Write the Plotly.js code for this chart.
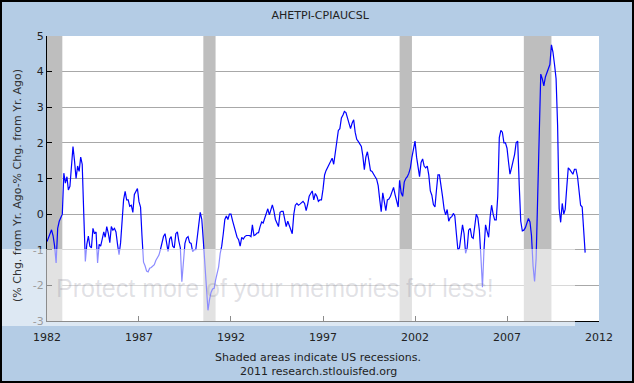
<!DOCTYPE html>
<html>
<head>
<meta charset="utf-8">
<script src="https://cdn.plot.ly/plotly-3.0.1.min.js"></script>
<style>html,body{margin:0;padding:0;background:#B4CCE5;}#chart{width:634px;height:383px;}</style>
</head>
<body>
<div id="chart"></div>
<script>
// Monthly values, % chg from yr ago (AHETPI) minus % chg from yr ago (CPIAUCSL), starting Jan 1982
const v1982_1986 = [
  -0.77, -0.65, -0.5, -0.44, -0.6, -0.9, -1.37, -0.4, -0.2, -0.1, 0.0, 1.15,
  0.87, 1.05, 0.68, 0.78, 1.35, 1.9, 1.5, 1.0, 1.35, 1.2, 1.6, 1.4,
  0.0, -1.33, -0.85, -0.62, -0.9, -0.95, -0.4, -0.55, -0.5, -1.37, -0.85, -0.9,
  -0.7, -0.5, -0.65, -0.35, -0.53, -0.8, -0.35, -0.45, -0.4, -0.5, -0.85, -1.14,
  -0.8, -0.1, 0.4, 0.64, 0.4, 0.4, 0.22, 0.25, 0.05, 0.55, 0.62, 0.72
];
const v1987_1991 = [
  0.35, 0.2, -0.6, -1.35, -1.45, -1.6, -1.62, -1.52, -1.5, -1.45, -1.42, -1.3,
  -1.2, -1.15, -1.0, -0.8, -0.63, -0.55, -0.75, -1.05, -0.7, -0.63, -0.9, -0.95,
  -0.55, -0.5, -0.75, -0.95, -1.9, -1.2, -0.82, -0.67, -0.63, -0.8, -0.82, -1.05,
  -1.0, -1.0, -0.72, -0.3, 0.05, -0.15, -0.75, -1.45, -1.9, -2.7, -2.4, -2.2,
  -2.1, -2.08, -1.85, -1.7, -1.48, -1.1, -0.9, -0.55, -0.15, -0.05, -0.15, 0.0
];
const v1992_1996 = [
  0.0, -0.18, -0.35, -0.55, -0.65, -0.72, -0.9, -0.65, -0.7, -0.63, -0.6, -0.6,
  -0.6, -0.63, -0.3, -0.6, -0.58, -0.53, -0.52, -0.35, -0.22, -0.25, -0.11, 0.03,
  0.15, -0.02, 0.1, 0.26, 0.1, -0.15, -0.25, -0.35, 0.05, 0.08, 0.08, -0.1,
  -0.35, -0.2, -0.3, -0.45, -0.55, 0.0, 0.25, 0.3, 0.25, 0.28, 0.33, 0.36,
  0.3, 0.1, 0.27, 0.5, 0.58, 0.65, 0.4, 0.58, 0.5, 0.36, 0.4, 0.4
];
const v1997_2001 = [
  0.7, 1.1, 1.22, 1.32, 1.4, 1.48, 1.57, 1.4, 1.75, 2.1, 2.35, 2.4,
  2.7, 2.78, 2.88, 2.85, 2.68, 2.5, 2.4, 2.55, 2.65, 2.3, 2.1, 2.04,
  1.98, 1.9, 1.65, 1.25, 1.6, 1.75, 1.5, 1.22, 1.2, 1.1, 1.05, 0.98,
  0.8, 0.4, 0.07, 0.6, 0.3, 0.1, 0.4, 0.42, 0.5, 0.66, 0.75, 0.55,
  0.4, 0.2, 0.95, 0.6, 0.5, 0.9, 1.0, 1.05, 1.15, 1.3, 1.6, 1.8
];
const v2002_2006 = [
  2.05, 1.6, 1.25, 1.05, 1.45, 1.55, 1.35, 1.3, 1.35, 1.1, 0.65, 0.53,
  0.27, 0.2, 0.65, 1.1, 1.1, 0.7, 0.5, 0.15, -0.02, 0.13, -0.2, -0.1,
  -0.07, 0.02, -0.05, -0.55, -1.0, -0.95, -0.6, -0.3, -0.55, -1.1, -0.95, -0.45,
  -0.4, -0.65, -0.68, -0.25, 0.0, -0.1, -0.45, -1.2, -2.05, -1.0, -0.3, -0.48,
  -0.65, -0.07, 0.25, 0.0, -0.16, -0.16, 0.5, 2.15, 2.35, 2.3, 2.0, 2.0
];
const v2007_2011 = [
  1.85, 1.45, 1.12, 1.3, 1.45, 1.68, 2.0, 2.05, 0.8, -0.2, -0.47, -0.45,
  -0.38, -0.2, -0.12, -0.22, -0.6, -1.45, -1.89, -1.25, 0.6, 2.8, 3.93, 3.8,
  3.6, 3.85, 3.95, 4.05, 4.2, 4.75, 4.55, 4.2, 3.8, 2.5, 0.15, -0.23,
  0.3, 0.0, 0.14, 0.75, 1.3, 1.25, 1.2, 1.12, 1.26, 1.26, 1.05, 0.6,
  0.25, 0.2, -0.5, -1.08
];
const startYear = 1982;
const recessionStart = ['1981-07-01', '1990-07-01', '2001-03-01', '2007-12-01'];
const recessionEnd   = ['1982-11-01', '1991-03-01', '2001-11-01', '2009-06-01'];
const xTickYears = ['1982', '1987', '1992', '1997', '2002', '2007', '2012'];
const yTicks = [-3, -2, -1, 0, 1, 2, 3, 4, 5];

const values = [].concat(v1982_1986, v1987_1991, v1992_1996, v1997_2001, v2002_2006, v2007_2011);
const dates = values.map((_, i) => {
  const y = startYear + Math.floor(i / 12);
  const m = (i % 12) + 1;
  return y + '-' + String(m).padStart(2, '0') + '-01';
});

const recX = [], recY = [];
recessionStart.forEach((s, i) => {
  recX.push(s, s, recessionEnd[i], recessionEnd[i], s, null);
  recY.push(-3, 5, 5, -3, -3, null);
});

// pixel helpers for paper coordinates (plot area: x 47..599, y 36..321)
const PL = 47, PR = 599, PT = 36, PB = 321;
const px = v => (v - PL) / (PR - PL);
const py = v => (PB - v) / (PB - PT);

const traces = [
  { x: recX, y: recY, type: 'scatter', mode: 'lines', fill: 'toself',
    fillcolor: '#BEBEBE', line: { width: 0, color: '#BEBEBE' }, hoverinfo: 'skip', showlegend: false },
  { x: dates, y: values, type: 'scatter', mode: 'lines',
    line: { color: '#0000FF', width: 1.2 }, hoverinfo: 'skip', showlegend: false }
];

const layout = {
  width: 634, height: 383,
  margin: { l: PL, r: 634 - PR, t: PT, b: 383 - PB, pad: 0 },
  paper_bgcolor: '#B4CCE5', plot_bgcolor: '#FFFFFF',
  font: { family: 'DejaVu Sans, Verdana, sans-serif', size: 11, color: '#222' },
  showlegend: false,
  title: { text: 'AHETPI-CPIAUCSL', x: 0.505, xref: 'container', y: 1 - 15 / 383, yref: 'container',
           xanchor: 'center', yanchor: 'middle', font: { size: 11, color: '#222' } },
  xaxis: {
    type: 'date', range: ['1982-01-01', '2012-01-01'],
    tickmode: 'array', tickvals: xTickYears.map(y => y + '-01-01'), ticktext: xTickYears,
    ticks: 'inside', ticklen: 5, tickcolor: '#000', tickwidth: 1, ticklabelstandoff: 6,
    showline: true, linecolor: '#000', linewidth: 1, showgrid: false, zeroline: false,
    fixedrange: true
  },
  yaxis: {
    range: [-3, 5], tickmode: 'array', tickvals: yTicks, ticktext: yTicks.map(String),
    ticks: 'inside', ticklen: 5, tickcolor: '#000', tickwidth: 1,
    showline: true, linecolor: '#000', linewidth: 1,
    showgrid: true, gridcolor: '#A8A8A8', gridwidth: 1, zeroline: false, fixedrange: true
  },
  shapes: [
    { type: 'rect', xref: 'paper', yref: 'paper', x0: px(2), x1: px(575), y0: py(326), y1: py(249),
      fillcolor: 'rgba(255,255,255,0.55)', line: { width: 0 }, layer: 'above' },
    { type: 'rect', xref: 'paper', yref: 'paper', x0: px(1), x1: px(633), y0: py(382), y1: py(1),
      fillcolor: 'rgba(0,0,0,0)', line: { width: 2, color: '#000' }, layer: 'above' }
  ],
  annotations: [
    { text: '(% Chg. from Yr. Ago-% Chg. from Yr. Ago)', xref: 'paper', yref: 'paper',
      x: px(17), y: py(186), textangle: -90, showarrow: false, xanchor: 'center', yanchor: 'middle',
      font: { size: 11, color: '#333' } },
    { text: 'Shaded areas indicate US recessions.', xref: 'paper', yref: 'paper',
      x: px(318), y: py(357), showarrow: false, xanchor: 'center', yanchor: 'middle',
      font: { size: 11, color: '#222' } },
    { text: '2011 research.stlouisfed.org', xref: 'paper', yref: 'paper',
      x: px(318), y: py(371), showarrow: false, xanchor: 'center', yanchor: 'middle',
      font: { size: 11, color: '#222' } },
    { text: 'Protect more of your memories for less!', xref: 'paper', yref: 'paper',
      x: px(54), y: py(288), showarrow: false, xanchor: 'left', yanchor: 'middle',
      font: { size: 25, family: 'Liberation Sans, Arial, sans-serif', color: 'rgba(120,120,140,0.22)' } }
  ]
};

Plotly.newPlot('chart', traces, layout, { staticPlot: true, displayModeBar: false });
</script>
</body>
</html>
